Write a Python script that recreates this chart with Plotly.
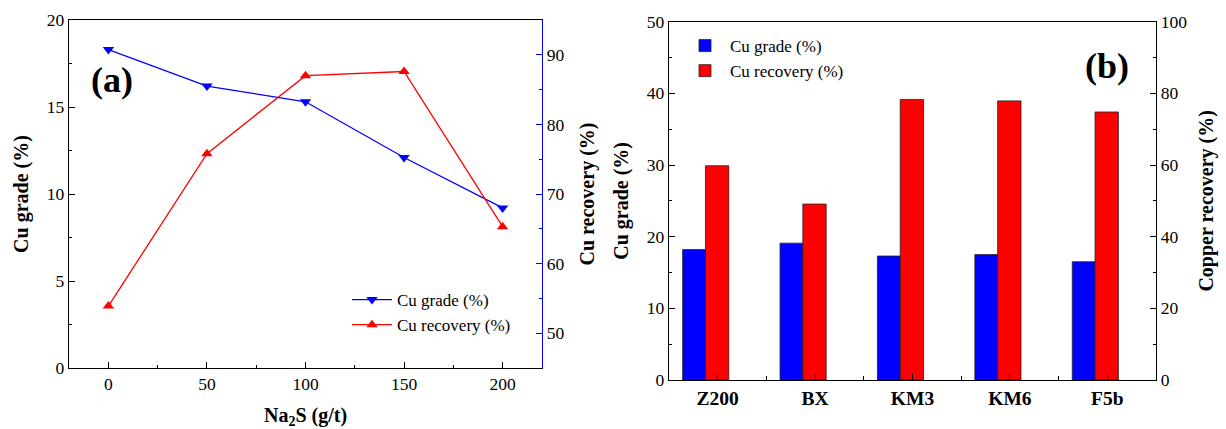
import plotly.graph_objects as go

# ---- data (a) ----
na2s_dosage = [0, 50, 100, 150, 200]
cu_grade_a = [18.3, 16.2, 15.3, 12.1, 9.2]
cu_recovery_a = [53.9, 75.8, 87.0, 87.6, 65.3]

# ---- data (b) ----
collectors = ["Z200", "BX", "KM3", "KM6", "F5b"]
cu_grade_b = [18.2, 19.1, 17.3, 17.5, 16.5]
cu_recovery_b = [59.8, 49.1, 78.3, 77.9, 74.8]

W, H = 1226, 429
def px_x(p): return p / W
def px_y(p): return 1 - p / H

FONT = "Liberation Serif"
TICK_SIZE = 17.5
fig = go.Figure()

fig.add_trace(go.Scatter(
    x=na2s_dosage, y=cu_grade_a, name="Cu grade (%)", mode="lines+markers",
    line=dict(color="#0000ff", width=1.3),
    marker=dict(symbol="triangle-down", size=10, color="#0000ff"),
    xaxis="x", yaxis="y", legend="legend"))
fig.add_trace(go.Scatter(
    x=na2s_dosage, y=cu_recovery_a, name="Cu recovery (%)", mode="lines+markers",
    line=dict(color="#ff0000", width=1.3),
    marker=dict(symbol="triangle-up", size=10, color="#ff0000"),
    xaxis="x", yaxis="y2", legend="legend"))

xpos = list(range(len(collectors)))
fig.add_trace(go.Bar(
    x=xpos, y=cu_grade_b, name="Cu grade (%)", width=0.235, offset=-0.36,
    marker=dict(color="#0000ff", line=dict(color="#222222", width=0.8)),
    xaxis="x3", yaxis="y3", legend="legend2"))
fig.add_trace(go.Bar(
    x=xpos, y=cu_recovery_b, name="Cu recovery (%)", width=0.24, offset=-0.126,
    marker=dict(color="#ff0000", line=dict(color="#222222", width=0.8)),
    xaxis="x3", yaxis="y4", legend="legend2"))

axis_common = dict(showgrid=False, zeroline=False, showline=True, linecolor="black",
                   linewidth=1.3, ticks="inside", ticklen=6, tickwidth=1.2,
                   tickcolor="black", automargin=False,
                   tickfont=dict(family=FONT, size=TICK_SIZE, color="black"))

dom_a = [px_x(69), px_x(542)]
dom_ay = [px_y(368), px_y(20)]
dom_b = [px_x(669), px_x(1156)]
dom_by = [px_y(380), px_y(21.7)]

title_font = dict(family=FONT, size=20, color="black")

fig.update_layout(
    width=W, height=H, template="none",
    margin=dict(l=0, r=0, t=0, b=0),
    paper_bgcolor="white", plot_bgcolor="white",
    font=dict(family=FONT, size=15, color="black"),
    barmode="overlay",
    xaxis=dict(**axis_common, domain=dom_a, anchor="y", range=[-20, 220],
               tick0=0, dtick=50, mirror=True,
               minor=dict(ticks="inside", ticklen=3, tick0=0, dtick=25, tickcolor="black"),
               title=dict(text="<b>Na<sub>2</sub>S (g/t)</b>", font=title_font, standoff=17)),
    yaxis=dict(**axis_common, domain=dom_ay, anchor="x", range=[0, 20], tick0=0, dtick=5,
               minor=dict(ticks="inside", ticklen=3, tick0=0, dtick=2.5, tickcolor="black"),
               title=dict(text="<b>Cu grade (%)</b>", font=title_font, standoff=12)),
    yaxis2=dict(showgrid=False, zeroline=False, showline=True, linecolor="#0000ff",
                linewidth=1.3, ticks="inside", ticklen=6, tickwidth=1.2, tickcolor="#0000ff",
                automargin=False, tickfont=dict(family=FONT, size=TICK_SIZE, color="black"),
                overlaying="y", side="right", anchor="x", range=[45, 95], tick0=0, dtick=10,
                minor=dict(ticks="inside", ticklen=3, tick0=0, dtick=5, tickcolor="#0000ff"),
                title=dict(text="<b>Cu recovery (%)</b>", font=title_font, standoff=16)),
    xaxis3=dict(**{k: v for k, v in axis_common.items() if k != "tickfont"},
                tickfont=dict(family=FONT, size=19.5, color="black", weight="bold"),
                domain=dom_b, anchor="y3", range=[-0.5, 4.5],
                tickmode="array", tickvals=xpos, ticktext=collectors, mirror=True,
                minor=dict(ticks="inside", ticklen=4, tick0=0.5, dtick=1, tickcolor="black")),
    yaxis3=dict(**axis_common, domain=dom_by, anchor="x3", range=[0, 50], tick0=0, dtick=10,
                minor=dict(ticks="inside", ticklen=3, tick0=0, dtick=5, tickcolor="black"),
                title=dict(text="<b>Cu grade (%)</b>", font=title_font, standoff=12)),
    yaxis4=dict(**axis_common, overlaying="y3", side="right", anchor="x3", range=[0, 100],
                tick0=0, dtick=20,
                minor=dict(ticks="inside", ticklen=3, tick0=0, dtick=10, tickcolor="black"),
                title=dict(text="<b>Copper recovery (%)</b>", font=title_font, standoff=12)),
    legend=dict(x=px_x(347), y=px_y(282), xanchor="left", yanchor="top",
                bgcolor="rgba(0,0,0,0)", font=dict(family=FONT, size=17),
                tracegroupgap=0, itemwidth=40),
    legend2=dict(x=px_x(680), y=px_y(28), xanchor="left", yanchor="top",
                 bgcolor="rgba(0,0,0,0)", font=dict(family=FONT, size=17),
                 tracegroupgap=0, itemwidth=40),
    annotations=[
        dict(text="<b>(a)</b>", x=px_x(112), y=px_y(80), xref="paper", yref="paper",
             xanchor="center", yanchor="middle",
             showarrow=False, font=dict(family=FONT, size=36, color="black")),
        dict(text="<b>(b)</b>", x=px_x(1107), y=px_y(66), xref="paper", yref="paper",
             xanchor="center", yanchor="middle",
             showarrow=False, font=dict(family=FONT, size=36, color="black")),
    ],
)

fig.write_html("out.html", config={"displayModeBar": False},
               post_script="document.body.style.margin='0';")
